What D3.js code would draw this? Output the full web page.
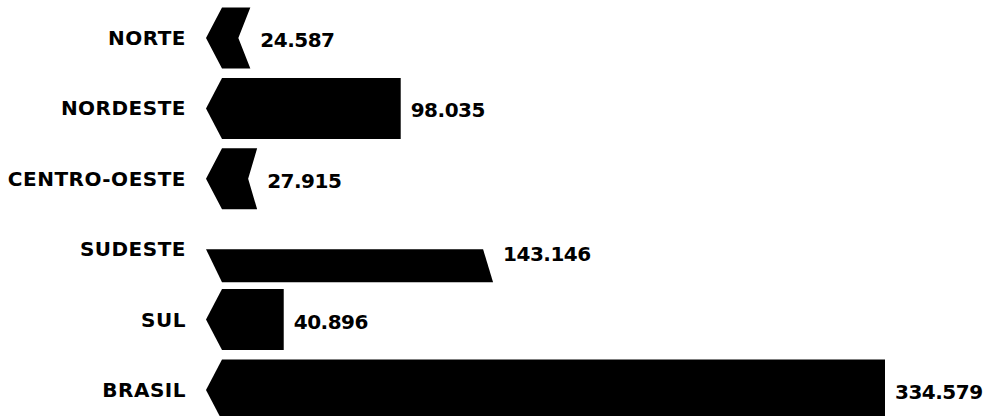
<!DOCTYPE html>
<html>
<head>
<meta charset="utf-8">
<script src="https://cdn.jsdelivr.net/npm/d3@7"></script>
<style>
  html, body { margin: 0; padding: 0; background: #fff; }
  svg { display: block; }
  text { font-family: "DejaVu Sans", sans-serif; font-weight: bold; fill: #000; }
</style>
</head>
<body>
<svg id="chart" width="987" height="416"></svg>
<script>
// ---- data ----
const categories = ["NORTE", "NORDESTE", "CENTRO-OESTE", "SUDESTE", "SUL", "BRASIL"];
const values = [24.587, 98.035, 27.915, 143.146, 40.896, 334.579];
const valueLabels = ["24.587", "98.035", "27.915", "143.146", "40.896", "334.579"];

// ---- style (not data) ----
const halfBar = 30.5;     // half of bar height
const tipInset = 6;       // chevron tip offset from scale origin
const tipDepth = 16;      // chevron depth
const notch = { "NORTE": 12, "CENTRO-OESTE": 9 }; // torn right edge
const halfOnly = { "SUDESTE": true };             // only lower half visible

const svg = d3.select("#chart");
const x = d3.scaleLinear().domain([0, d3.max(values)]).range([200, 885]);
const y = d3.scalePoint().domain(categories).range([38, 390]);

const rows = categories.map((c, i) => ({ c, v: values[i], lbl: valueLabels[i] }));

function barPath(d) {
  const p = d3.path();
  const cy = y(d.c);
  const x0 = x(0) + tipInset;
  const x1 = x(d.v);
  if (halfOnly[d.c]) {
    const top = cy, bot = cy + 33;
    p.moveTo(x0, top);
    p.lineTo(x1 - 10, top);
    p.lineTo(x1, bot);
    p.lineTo(x0 + tipDepth, bot);
    p.closePath();
    return p.toString();
  }
  const top = cy - halfBar, bot = cy + halfBar;
  const n = notch[d.c] || 0;
  p.moveTo(x0, cy);
  p.lineTo(x0 + tipDepth, top);
  p.lineTo(x1, top);
  p.lineTo(x1 - n, cy);
  p.lineTo(x1, bot);
  p.lineTo(x0 + tipDepth, bot);
  p.closePath();
  return p.toString();
}

svg.append("g").selectAll("path")
  .data(rows)
  .join("path")
  .attr("d", barPath)
  .attr("fill", "#000");

svg.append("g").selectAll("text")
  .data(rows)
  .join("text")
  .attr("x", 186)
  .attr("y", d => y(d.c))
  .attr("text-anchor", "end")
  .attr("dominant-baseline", "central")
  .attr("font-size", 20)
  .attr("letter-spacing", 0.5)
  .text(d => d.c);

svg.append("g").selectAll("text")
  .data(rows)
  .join("text")
  .attr("x", d => x(d.v) + 10)
  .attr("y", d => halfOnly[d.c] ? y(d.c) + 5 : y(d.c) + 2)
  .attr("text-anchor", "start")
  .attr("dominant-baseline", "central")
  .attr("font-size", 20)
  .attr("letter-spacing", -0.5)
  .text(d => d.lbl);
</script>
</body>
</html>
